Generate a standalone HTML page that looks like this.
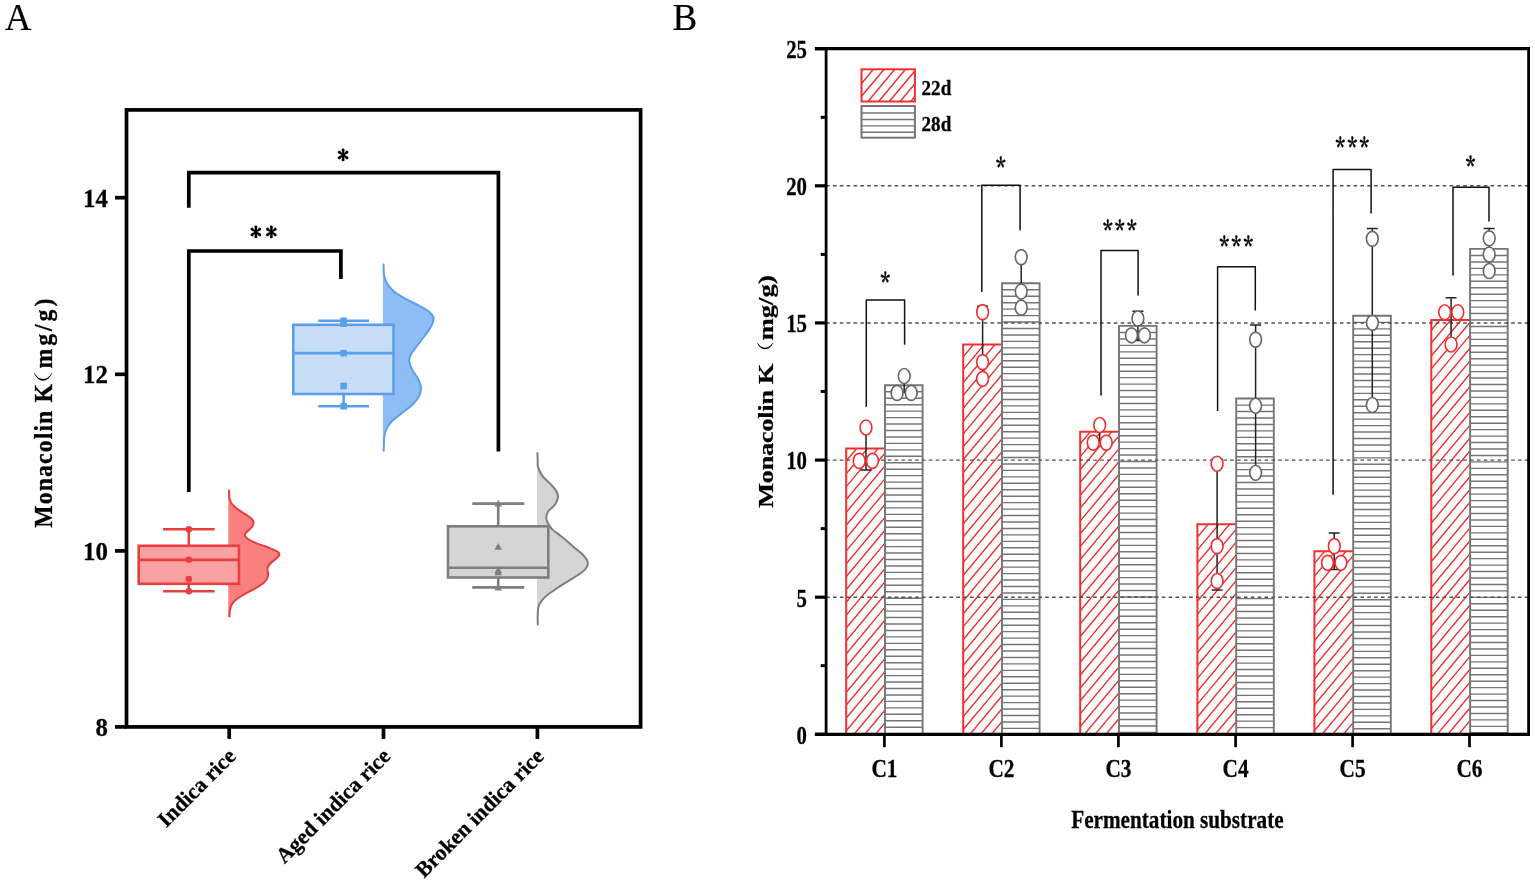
<!DOCTYPE html>
<html lang="en"><head><meta charset="utf-8"><title>Monacolin K figure</title>
<style>html,body{margin:0;padding:0;background:#fff;}svg{display:block;}text{font-family:"Liberation Serif",serif;fill:#000;}.b{font-weight:bold;stroke:#000;stroke-width:0.28px;}.cjk{font-family:"Liberation Serif","Noto Serif CJK SC",serif;font-weight:normal;}.st{font-family:"IPAGothic","DejaVu Sans",sans-serif;font-weight:bold;}.sb{font-family:"Noto Serif CJK SC","Liberation Serif",serif;font-weight:bold;stroke:#000;stroke-width:0.45px;stroke-linejoin:round;}</style></head><body>
<svg width="1535" height="884" viewBox="0 0 1535 884">
<rect x="0" y="0" width="1535" height="884" fill="#ffffff"/>
<defs>
<pattern id="hr" patternUnits="userSpaceOnUse" x="846.4" y="718.05" width="10.708" height="12.85"><path d="M-10.708,12.85 L10.708,-12.85 M0,12.85 L10.708,0 M0,25.7 L21.417,0" stroke="#f03030" stroke-width="1.4" fill="none"/></pattern>
<pattern id="hg" patternUnits="userSpaceOnUse" x="0" y="446.275" width="10" height="6.45"><path d="M0,3.225 H10" stroke="#757575" stroke-width="1.25" fill="none"/></pattern>
</defs>
<g id="panelA">
<text x="4.8" y="29.7" font-size="37" stroke="#000" stroke-width="0.2">A</text>
<rect x="126.5" y="109.9" width="514.1" height="617.0" fill="none" stroke="#000" stroke-width="3.7"/>
<line x1="115" y1="197.7" x2="126.5" y2="197.7" stroke="#000" stroke-width="3.7"/>
<text class="b" x="107.8" y="206.79999999999998" font-size="24.8" text-anchor="end">14</text>
<line x1="115" y1="374.3" x2="126.5" y2="374.3" stroke="#000" stroke-width="3.7"/>
<text class="b" x="107.8" y="383.40000000000003" font-size="24.8" text-anchor="end">12</text>
<line x1="115" y1="550.9" x2="126.5" y2="550.9" stroke="#000" stroke-width="3.7"/>
<text class="b" x="107.8" y="560.0" font-size="24.8" text-anchor="end">10</text>
<line x1="115" y1="726.9" x2="126.5" y2="726.9" stroke="#000" stroke-width="3.7"/>
<text class="b" x="107.8" y="736.0" font-size="24.8" text-anchor="end">8</text>
<line x1="229.2" y1="726.9" x2="229.2" y2="738.9" stroke="#000" stroke-width="3.7"/>
<line x1="383.5" y1="726.9" x2="383.5" y2="738.9" stroke="#000" stroke-width="3.7"/>
<line x1="537.4" y1="726.9" x2="537.4" y2="738.9" stroke="#000" stroke-width="3.7"/>
<g transform="translate(51.5,527.7) rotate(-90)"><text class="b" transform="scale(1,1.06)" x="0" y="0" font-size="23.7" textLength="143.6" lengthAdjust="spacing">Monacolin K</text><text class="cjk" transform="translate(128.4,-0.55) scale(1.42,0.968)" x="0" y="0" font-size="20">（</text><text class="b" transform="translate(159.3,0) scale(1,1.06)" x="0" y="0" font-size="23.7" textLength="69.7" lengthAdjust="spacing">mg/g)</text></g>
<text class="b" transform="translate(237.0,757.5) rotate(-45)" x="0" y="0" font-size="21.8" text-anchor="end">Indica rice</text>
<text class="b" transform="translate(391.6,757.5) rotate(-45)" x="0" y="0" font-size="21.8" text-anchor="end">Aged indica rice</text>
<text class="b" transform="translate(545.2,757.5) rotate(-45)" x="0" y="0" font-size="21.8" text-anchor="end">Broken indica rice</text>
<path d="M228.3,490.4 L229.0,490.4 C229.1,491.7 229.1,495.9 229.5,498.1 C229.9,500.3 230.2,501.5 231.7,503.5 C233.2,505.5 235.8,507.9 238.5,509.9 C241.2,511.9 245.2,514.1 247.6,515.7 C249.9,517.4 251.6,518.5 252.6,519.8 C253.6,521.1 253.7,522.0 253.5,523.4 C253.3,524.8 252.4,526.5 251.2,528.0 C250.0,529.5 247.2,531.3 246.2,532.5 C245.1,533.7 244.7,534.2 244.9,535.2 C245.1,536.2 245.6,537.4 247.6,538.8 C249.6,540.1 253.0,541.8 256.6,543.3 C260.2,544.8 265.8,546.5 269.3,547.9 C272.8,549.3 275.7,550.5 277.4,551.6 C279.1,552.7 279.6,553.2 279.5,554.3 C279.4,555.4 278.1,556.7 276.5,558.3 C274.9,559.9 271.3,562.2 269.8,564.0 C268.3,565.8 267.7,567.0 267.4,568.8 C267.1,570.6 268.4,572.7 268.2,574.6 C268.0,576.5 267.5,578.5 266.0,580.4 C264.5,582.3 262.2,584.2 259.2,586.2 C256.1,588.2 251.4,590.3 247.7,592.4 C244.0,594.5 239.8,596.7 237.1,598.7 C234.4,600.7 233.0,602.5 231.8,604.4 C230.6,606.3 230.3,608.2 229.9,610.2 C229.5,612.2 229.5,615.4 229.4,616.4 L228.3,616.4 Z" fill="#fa8080" stroke="none"/>
<path d="M229.0,490.4 C229.1,491.7 229.1,495.9 229.5,498.1 C229.9,500.3 230.2,501.5 231.7,503.5 C233.2,505.5 235.8,507.9 238.5,509.9 C241.2,511.9 245.2,514.1 247.6,515.7 C249.9,517.4 251.6,518.5 252.6,519.8 C253.6,521.1 253.7,522.0 253.5,523.4 C253.3,524.8 252.4,526.5 251.2,528.0 C250.0,529.5 247.2,531.3 246.2,532.5 C245.1,533.7 244.7,534.2 244.9,535.2 C245.1,536.2 245.6,537.4 247.6,538.8 C249.6,540.1 253.0,541.8 256.6,543.3 C260.2,544.8 265.8,546.5 269.3,547.9 C272.8,549.3 275.7,550.5 277.4,551.6 C279.1,552.7 279.6,553.2 279.5,554.3 C279.4,555.4 278.1,556.7 276.5,558.3 C274.9,559.9 271.3,562.2 269.8,564.0 C268.3,565.8 267.7,567.0 267.4,568.8 C267.1,570.6 268.4,572.7 268.2,574.6 C268.0,576.5 267.5,578.5 266.0,580.4 C264.5,582.3 262.2,584.2 259.2,586.2 C256.1,588.2 251.4,590.3 247.7,592.4 C244.0,594.5 239.8,596.7 237.1,598.7 C234.4,600.7 233.0,602.5 231.8,604.4 C230.6,606.3 230.3,608.2 229.9,610.2 C229.5,612.2 229.5,615.4 229.4,616.4" fill="none" stroke="#e83e40" stroke-width="2" stroke-linecap="round" stroke-linejoin="round"/>
<path d="M382.9,264.6 L383.6,264.6 C383.7,266.4 383.5,272.3 384.1,275.4 C384.7,278.5 385.4,280.7 387.0,283.3 C388.6,285.9 390.8,288.6 393.8,291.2 C396.8,293.8 401.0,296.2 405.1,298.6 C409.2,301.0 414.7,303.1 418.6,305.3 C422.6,307.5 426.4,309.6 428.8,311.6 C431.2,313.6 432.6,315.3 433.3,317.2 C434.0,319.1 433.7,320.4 432.8,322.9 C431.9,325.3 429.9,328.7 427.7,331.9 C425.5,335.1 422.1,339.0 419.8,342.1 C417.5,345.2 415.2,348.3 413.6,350.5 C412.0,352.7 411.1,353.7 410.4,355.5 C409.7,357.3 408.9,358.8 409.2,361.2 C409.5,363.6 410.9,367.0 412.3,369.9 C413.8,372.8 416.4,375.7 417.9,378.6 C419.3,381.5 420.8,384.4 421.0,387.3 C421.2,390.2 420.6,393.1 419.1,396.0 C417.7,398.9 415.1,401.9 412.3,404.7 C409.5,407.5 405.6,410.1 402.3,412.8 C399.0,415.5 395.0,418.3 392.4,420.9 C389.8,423.5 388.1,425.7 386.8,428.4 C385.5,431.1 384.8,433.4 384.3,437.1 C383.8,440.8 383.8,448.5 383.7,450.8 L382.9,450.8 Z" fill="#8fbcf5" stroke="none"/>
<path d="M383.6,264.6 C383.7,266.4 383.5,272.3 384.1,275.4 C384.7,278.5 385.4,280.7 387.0,283.3 C388.6,285.9 390.8,288.6 393.8,291.2 C396.8,293.8 401.0,296.2 405.1,298.6 C409.2,301.0 414.7,303.1 418.6,305.3 C422.6,307.5 426.4,309.6 428.8,311.6 C431.2,313.6 432.6,315.3 433.3,317.2 C434.0,319.1 433.7,320.4 432.8,322.9 C431.9,325.3 429.9,328.7 427.7,331.9 C425.5,335.1 422.1,339.0 419.8,342.1 C417.5,345.2 415.2,348.3 413.6,350.5 C412.0,352.7 411.1,353.7 410.4,355.5 C409.7,357.3 408.9,358.8 409.2,361.2 C409.5,363.6 410.9,367.0 412.3,369.9 C413.8,372.8 416.4,375.7 417.9,378.6 C419.3,381.5 420.8,384.4 421.0,387.3 C421.2,390.2 420.6,393.1 419.1,396.0 C417.7,398.9 415.1,401.9 412.3,404.7 C409.5,407.5 405.6,410.1 402.3,412.8 C399.0,415.5 395.0,418.3 392.4,420.9 C389.8,423.5 388.1,425.7 386.8,428.4 C385.5,431.1 384.8,433.4 384.3,437.1 C383.8,440.8 383.8,448.5 383.7,450.8" fill="none" stroke="#5a9fee" stroke-width="2" stroke-linecap="round" stroke-linejoin="round"/>
<path d="M537.0,453.0 L537.5,453.0 C537.5,454.2 537.6,457.6 537.7,460.0 C537.8,462.4 537.3,464.4 538.1,467.1 C538.9,469.8 540.3,473.2 542.6,476.2 C544.9,479.2 549.3,482.6 551.7,485.2 C554.1,487.8 555.8,489.9 556.8,492.0 C557.8,494.1 558.2,495.6 557.9,497.7 C557.6,499.8 556.7,502.2 555.1,504.5 C553.5,506.8 549.8,509.1 548.3,511.3 C546.8,513.5 546.2,515.9 546.2,518.0 C546.2,520.1 547.2,521.8 548.3,523.7 C549.3,525.6 550.4,527.5 552.5,529.6 C554.6,531.7 557.6,533.4 561.1,536.2 C564.6,539.1 569.8,543.5 573.5,546.7 C577.2,549.9 581.1,552.9 583.5,555.5 C585.9,558.1 587.4,560.1 587.8,562.3 C588.2,564.5 587.4,566.4 585.9,568.5 C584.4,570.6 581.6,572.5 578.5,574.7 C575.4,576.9 571.2,579.1 567.3,581.6 C563.3,584.1 558.5,587.1 554.8,589.7 C551.1,592.3 547.5,594.6 544.9,597.1 C542.3,599.6 540.5,602.1 539.3,604.6 C538.1,607.1 538.0,608.8 537.8,612.1 C537.5,615.4 537.8,622.4 537.8,624.5 L537.0,624.5 Z" fill="#d5d5d5" stroke="none"/>
<path d="M537.5,453.0 C537.5,454.2 537.6,457.6 537.7,460.0 C537.8,462.4 537.3,464.4 538.1,467.1 C538.9,469.8 540.3,473.2 542.6,476.2 C544.9,479.2 549.3,482.6 551.7,485.2 C554.1,487.8 555.8,489.9 556.8,492.0 C557.8,494.1 558.2,495.6 557.9,497.7 C557.6,499.8 556.7,502.2 555.1,504.5 C553.5,506.8 549.8,509.1 548.3,511.3 C546.8,513.5 546.2,515.9 546.2,518.0 C546.2,520.1 547.2,521.8 548.3,523.7 C549.3,525.6 550.4,527.5 552.5,529.6 C554.6,531.7 557.6,533.4 561.1,536.2 C564.6,539.1 569.8,543.5 573.5,546.7 C577.2,549.9 581.1,552.9 583.5,555.5 C585.9,558.1 587.4,560.1 587.8,562.3 C588.2,564.5 587.4,566.4 585.9,568.5 C584.4,570.6 581.6,572.5 578.5,574.7 C575.4,576.9 571.2,579.1 567.3,581.6 C563.3,584.1 558.5,587.1 554.8,589.7 C551.1,592.3 547.5,594.6 544.9,597.1 C542.3,599.6 540.5,602.1 539.3,604.6 C538.1,607.1 538.0,608.8 537.8,612.1 C537.5,615.4 537.8,622.4 537.8,624.5" fill="none" stroke="#7e7e7e" stroke-width="2" stroke-linecap="round" stroke-linejoin="round"/>
<path d="M188.8,529.2 V545.8 M188.8,583.8 V591.2 M163.1,529.2 H214.6 M163.1,591.2 H214.6" stroke="#e83e40" stroke-width="2.6" fill="none"/>
<rect x="138.7" y="545.8" width="100.30000000000001" height="38.0" fill="#faa2a2" stroke="#e83e40" stroke-width="2.6"/>
<line x1="138.7" y1="559.9" x2="239" y2="559.9" stroke="#e83e40" stroke-width="2.6"/>
<circle cx="188.8" cy="529.2" r="3.3" fill="#e83e40"/>
<circle cx="188.8" cy="559.7" r="3.3" fill="#e83e40"/>
<circle cx="188.8" cy="579" r="3.3" fill="#e83e40"/>
<circle cx="188.8" cy="591.3" r="3.3" fill="#e83e40"/>
<path d="M343.6,320.8 V324.8 M343.6,394 V406.3 M318.2,320.8 H369 M318.2,406.3 H369" stroke="#5a9fee" stroke-width="2.6" fill="none"/>
<rect x="293.3" y="324.8" width="100.19999999999999" height="69.19999999999999" fill="#c8def8" stroke="#5a9fee" stroke-width="2.6"/>
<line x1="293.3" y1="353.1" x2="393.5" y2="353.1" stroke="#5a9fee" stroke-width="2.6"/>
<rect x="340.3" y="317.5" width="6.6" height="6.6" fill="#5a9fee"/>
<rect x="340.3" y="320.3" width="6.6" height="6.6" fill="#5a9fee"/>
<rect x="340.3" y="349.9" width="6.6" height="6.6" fill="#5a9fee"/>
<rect x="340.3" y="382.7" width="6.6" height="6.6" fill="#5a9fee"/>
<rect x="340.3" y="402.9" width="6.6" height="6.6" fill="#5a9fee"/>
<path d="M498.2,503.6 V526.3 M498.2,577.5 V587.4 M472.3,503.6 H524.3 M472.3,587.4 H524.3" stroke="#7e7e7e" stroke-width="2.6" fill="none"/>
<rect x="448" y="526.3" width="100.29999999999995" height="51.200000000000045" fill="#d5d5d5" stroke="#7e7e7e" stroke-width="2.6"/>
<line x1="448" y1="567.7" x2="548.3" y2="567.7" stroke="#7e7e7e" stroke-width="2.6"/>
<path d="M494.4,506.40000000000003 L502.0,506.40000000000003 L498.2,499.70000000000005 Z" fill="#7e7e7e"/>
<path d="M494.4,549.6999999999999 L502.0,549.6999999999999 L498.2,543.0 Z" fill="#7e7e7e"/>
<path d="M494.4,573.0999999999999 L502.0,573.0999999999999 L498.2,566.4 Z" fill="#7e7e7e"/>
<path d="M494.4,575.3 L502.0,575.3 L498.2,568.6 Z" fill="#7e7e7e"/>
<path d="M494.4,590.4 L502.0,590.4 L498.2,583.7 Z" fill="#7e7e7e"/>
<path d="M188.8,207.7 V172.7 H498.4 V451.4" fill="none" stroke="#000" stroke-width="3.7" stroke-linejoin="miter"/>
<path d="M188.8,492.1 V251 H340.9 V279" fill="none" stroke="#000" stroke-width="3.7" stroke-linejoin="miter"/>
<text class="st" x="343.15" y="163.5" font-size="23.5" text-anchor="middle">*</text>
<text class="st" x="255.85" y="241.2" font-size="23.5" text-anchor="middle">*</text>
<text class="st" x="271.4" y="241.2" font-size="23.5" text-anchor="middle">*</text>
</g>
<g id="panelB">
<text x="672.6" y="29.5" font-size="37" stroke="#000" stroke-width="0.2">B</text>
<clipPath id="c1"><rect x="846.20" y="448.50" width="38.80" height="285.80"/></clipPath>
<path d="M845.20,449.40L886.00,400.44M845.20,462.25L886.00,413.29M845.20,475.10L886.00,426.14M845.20,487.95L886.00,438.99M845.20,500.80L886.00,451.84M845.20,513.65L886.00,464.69M845.20,526.50L886.00,477.54M845.20,539.35L886.00,490.39M845.20,552.20L886.00,503.24M845.20,565.05L886.00,516.09M845.20,577.90L886.00,528.94M845.20,590.75L886.00,541.79M845.20,603.60L886.00,554.64M845.20,616.45L886.00,567.49M845.20,629.30L886.00,580.34M845.20,642.15L886.00,593.19M845.20,655.00L886.00,606.04M845.20,667.85L886.00,618.89M845.20,680.70L886.00,631.74M845.20,693.55L886.00,644.59M845.20,706.40L886.00,657.44M845.20,719.25L886.00,670.29M845.20,732.10L886.00,683.14M845.20,744.95L886.00,695.99M845.20,757.80L886.00,708.84M845.20,770.65L886.00,721.69M845.20,783.50L886.00,734.54" fill="none" stroke="#f03030" stroke-width="1.4" clip-path="url(#c1)"/>
<path d="M846.2,734.3 V448.5 H885.0" fill="none" stroke="#f03030" stroke-width="2"/>
<rect x="885.0" y="385.2" width="37.6" height="349.1" fill="#fff"/>
<path d="M885.00,391.80H922.60M885.00,398.25H922.60M885.00,404.70H922.60M885.00,411.15H922.60M885.00,417.60H922.60M885.00,424.05H922.60M885.00,430.50H922.60M885.00,436.95H922.60M885.00,443.40H922.60M885.00,449.85H922.60M885.00,456.30H922.60M885.00,462.75H922.60M885.00,469.20H922.60M885.00,475.65H922.60M885.00,482.10H922.60M885.00,488.55H922.60M885.00,495.00H922.60M885.00,501.45H922.60M885.00,507.90H922.60M885.00,514.35H922.60M885.00,520.80H922.60M885.00,527.25H922.60M885.00,533.70H922.60M885.00,540.15H922.60M885.00,546.60H922.60M885.00,553.05H922.60M885.00,559.50H922.60M885.00,565.95H922.60M885.00,572.40H922.60M885.00,578.85H922.60M885.00,585.30H922.60M885.00,591.75H922.60M885.00,598.20H922.60M885.00,604.65H922.60M885.00,611.10H922.60M885.00,617.55H922.60M885.00,624.00H922.60M885.00,630.45H922.60M885.00,636.90H922.60M885.00,643.35H922.60M885.00,649.80H922.60M885.00,656.25H922.60M885.00,662.70H922.60M885.00,669.15H922.60M885.00,675.60H922.60M885.00,682.05H922.60M885.00,688.50H922.60M885.00,694.95H922.60M885.00,701.40H922.60M885.00,707.85H922.60M885.00,714.30H922.60M885.00,720.75H922.60M885.00,727.20H922.60M885.00,733.65H922.60" fill="none" stroke="#757575" stroke-width="1.4"/>
<path d="M885.0,734.3 V385.2 H922.6 V734.3" fill="none" stroke="#757575" stroke-width="1.9"/>
<clipPath id="c2"><rect x="963.20" y="344.40" width="38.80" height="389.90"/></clipPath>
<path d="M962.20,345.25L1003.00,296.29M962.20,358.10L1003.00,309.14M962.20,370.95L1003.00,321.99M962.20,383.80L1003.00,334.84M962.20,396.65L1003.00,347.69M962.20,409.50L1003.00,360.54M962.20,422.35L1003.00,373.39M962.20,435.20L1003.00,386.24M962.20,448.05L1003.00,399.09M962.20,460.90L1003.00,411.94M962.20,473.75L1003.00,424.79M962.20,486.60L1003.00,437.64M962.20,499.45L1003.00,450.49M962.20,512.30L1003.00,463.34M962.20,525.15L1003.00,476.19M962.20,538.00L1003.00,489.04M962.20,550.85L1003.00,501.89M962.20,563.70L1003.00,514.74M962.20,576.55L1003.00,527.59M962.20,589.40L1003.00,540.44M962.20,602.25L1003.00,553.29M962.20,615.10L1003.00,566.14M962.20,627.95L1003.00,578.99M962.20,640.80L1003.00,591.84M962.20,653.65L1003.00,604.69M962.20,666.50L1003.00,617.54M962.20,679.35L1003.00,630.39M962.20,692.20L1003.00,643.24M962.20,705.05L1003.00,656.09M962.20,717.90L1003.00,668.94M962.20,730.75L1003.00,681.79M962.20,743.60L1003.00,694.64M962.20,756.45L1003.00,707.49M962.20,769.30L1003.00,720.34M962.20,782.15L1003.00,733.19" fill="none" stroke="#f03030" stroke-width="1.4" clip-path="url(#c2)"/>
<path d="M963.2,734.3 V344.4 H1002.0" fill="none" stroke="#f03030" stroke-width="2"/>
<rect x="1002.0" y="283.2" width="37.6" height="451.1" fill="#fff"/>
<path d="M1002.00,289.80H1039.60M1002.00,296.25H1039.60M1002.00,302.70H1039.60M1002.00,309.15H1039.60M1002.00,315.60H1039.60M1002.00,322.05H1039.60M1002.00,328.50H1039.60M1002.00,334.95H1039.60M1002.00,341.40H1039.60M1002.00,347.85H1039.60M1002.00,354.30H1039.60M1002.00,360.75H1039.60M1002.00,367.20H1039.60M1002.00,373.65H1039.60M1002.00,380.10H1039.60M1002.00,386.55H1039.60M1002.00,393.00H1039.60M1002.00,399.45H1039.60M1002.00,405.90H1039.60M1002.00,412.35H1039.60M1002.00,418.80H1039.60M1002.00,425.25H1039.60M1002.00,431.70H1039.60M1002.00,438.15H1039.60M1002.00,444.60H1039.60M1002.00,451.05H1039.60M1002.00,457.50H1039.60M1002.00,463.95H1039.60M1002.00,470.40H1039.60M1002.00,476.85H1039.60M1002.00,483.30H1039.60M1002.00,489.75H1039.60M1002.00,496.20H1039.60M1002.00,502.65H1039.60M1002.00,509.10H1039.60M1002.00,515.55H1039.60M1002.00,522.00H1039.60M1002.00,528.45H1039.60M1002.00,534.90H1039.60M1002.00,541.35H1039.60M1002.00,547.80H1039.60M1002.00,554.25H1039.60M1002.00,560.70H1039.60M1002.00,567.15H1039.60M1002.00,573.60H1039.60M1002.00,580.05H1039.60M1002.00,586.50H1039.60M1002.00,592.95H1039.60M1002.00,599.40H1039.60M1002.00,605.85H1039.60M1002.00,612.30H1039.60M1002.00,618.75H1039.60M1002.00,625.20H1039.60M1002.00,631.65H1039.60M1002.00,638.10H1039.60M1002.00,644.55H1039.60M1002.00,651.00H1039.60M1002.00,657.45H1039.60M1002.00,663.90H1039.60M1002.00,670.35H1039.60M1002.00,676.80H1039.60M1002.00,683.25H1039.60M1002.00,689.70H1039.60M1002.00,696.15H1039.60M1002.00,702.60H1039.60M1002.00,709.05H1039.60M1002.00,715.50H1039.60M1002.00,721.95H1039.60M1002.00,728.40H1039.60" fill="none" stroke="#757575" stroke-width="1.4"/>
<path d="M1002.0,734.3 V283.2 H1039.6 V734.3" fill="none" stroke="#757575" stroke-width="1.9"/>
<clipPath id="c3"><rect x="1080.20" y="431.80" width="38.80" height="302.50"/></clipPath>
<path d="M1079.20,432.25L1120.00,383.29M1079.20,445.10L1120.00,396.14M1079.20,457.95L1120.00,408.99M1079.20,470.80L1120.00,421.84M1079.20,483.65L1120.00,434.69M1079.20,496.50L1120.00,447.54M1079.20,509.35L1120.00,460.39M1079.20,522.20L1120.00,473.24M1079.20,535.05L1120.00,486.09M1079.20,547.90L1120.00,498.94M1079.20,560.75L1120.00,511.79M1079.20,573.60L1120.00,524.64M1079.20,586.45L1120.00,537.49M1079.20,599.30L1120.00,550.34M1079.20,612.15L1120.00,563.19M1079.20,625.00L1120.00,576.04M1079.20,637.85L1120.00,588.89M1079.20,650.70L1120.00,601.74M1079.20,663.55L1120.00,614.59M1079.20,676.40L1120.00,627.44M1079.20,689.25L1120.00,640.29M1079.20,702.10L1120.00,653.14M1079.20,714.95L1120.00,665.99M1079.20,727.80L1120.00,678.84M1079.20,740.65L1120.00,691.69M1079.20,753.50L1120.00,704.54M1079.20,766.35L1120.00,717.39M1079.20,779.20L1120.00,730.24M1079.20,792.05L1120.00,743.09" fill="none" stroke="#f03030" stroke-width="1.4" clip-path="url(#c3)"/>
<path d="M1080.2,734.3 V431.8 H1119.0" fill="none" stroke="#f03030" stroke-width="2"/>
<rect x="1119.0" y="325.9" width="37.6" height="408.4" fill="#fff"/>
<path d="M1119.00,332.50H1156.60M1119.00,338.95H1156.60M1119.00,345.40H1156.60M1119.00,351.85H1156.60M1119.00,358.30H1156.60M1119.00,364.75H1156.60M1119.00,371.20H1156.60M1119.00,377.65H1156.60M1119.00,384.10H1156.60M1119.00,390.55H1156.60M1119.00,397.00H1156.60M1119.00,403.45H1156.60M1119.00,409.90H1156.60M1119.00,416.35H1156.60M1119.00,422.80H1156.60M1119.00,429.25H1156.60M1119.00,435.70H1156.60M1119.00,442.15H1156.60M1119.00,448.60H1156.60M1119.00,455.05H1156.60M1119.00,461.50H1156.60M1119.00,467.95H1156.60M1119.00,474.40H1156.60M1119.00,480.85H1156.60M1119.00,487.30H1156.60M1119.00,493.75H1156.60M1119.00,500.20H1156.60M1119.00,506.65H1156.60M1119.00,513.10H1156.60M1119.00,519.55H1156.60M1119.00,526.00H1156.60M1119.00,532.45H1156.60M1119.00,538.90H1156.60M1119.00,545.35H1156.60M1119.00,551.80H1156.60M1119.00,558.25H1156.60M1119.00,564.70H1156.60M1119.00,571.15H1156.60M1119.00,577.60H1156.60M1119.00,584.05H1156.60M1119.00,590.50H1156.60M1119.00,596.95H1156.60M1119.00,603.40H1156.60M1119.00,609.85H1156.60M1119.00,616.30H1156.60M1119.00,622.75H1156.60M1119.00,629.20H1156.60M1119.00,635.65H1156.60M1119.00,642.10H1156.60M1119.00,648.55H1156.60M1119.00,655.00H1156.60M1119.00,661.45H1156.60M1119.00,667.90H1156.60M1119.00,674.35H1156.60M1119.00,680.80H1156.60M1119.00,687.25H1156.60M1119.00,693.70H1156.60M1119.00,700.15H1156.60M1119.00,706.60H1156.60M1119.00,713.05H1156.60M1119.00,719.50H1156.60M1119.00,725.95H1156.60M1119.00,732.40H1156.60" fill="none" stroke="#757575" stroke-width="1.4"/>
<path d="M1119.0,734.3 V325.9 H1156.6 V734.3" fill="none" stroke="#757575" stroke-width="1.9"/>
<clipPath id="c4"><rect x="1197.40" y="524.20" width="38.80" height="210.10"/></clipPath>
<path d="M1196.40,512.70L1237.20,463.74M1196.40,525.55L1237.20,476.59M1196.40,538.40L1237.20,489.44M1196.40,551.25L1237.20,502.29M1196.40,564.10L1237.20,515.14M1196.40,576.95L1237.20,527.99M1196.40,589.80L1237.20,540.84M1196.40,602.65L1237.20,553.69M1196.40,615.50L1237.20,566.54M1196.40,628.35L1237.20,579.39M1196.40,641.20L1237.20,592.24M1196.40,654.05L1237.20,605.09M1196.40,666.90L1237.20,617.94M1196.40,679.75L1237.20,630.79M1196.40,692.60L1237.20,643.64M1196.40,705.45L1237.20,656.49M1196.40,718.30L1237.20,669.34M1196.40,731.15L1237.20,682.19M1196.40,744.00L1237.20,695.04M1196.40,756.85L1237.20,707.89M1196.40,769.70L1237.20,720.74M1196.40,782.55L1237.20,733.59" fill="none" stroke="#f03030" stroke-width="1.4" clip-path="url(#c4)"/>
<path d="M1197.4,734.3 V524.2 H1236.2" fill="none" stroke="#f03030" stroke-width="2"/>
<rect x="1236.2" y="398.5" width="37.6" height="335.8" fill="#fff"/>
<path d="M1236.20,405.10H1273.80M1236.20,411.55H1273.80M1236.20,418.00H1273.80M1236.20,424.45H1273.80M1236.20,430.90H1273.80M1236.20,437.35H1273.80M1236.20,443.80H1273.80M1236.20,450.25H1273.80M1236.20,456.70H1273.80M1236.20,463.15H1273.80M1236.20,469.60H1273.80M1236.20,476.05H1273.80M1236.20,482.50H1273.80M1236.20,488.95H1273.80M1236.20,495.40H1273.80M1236.20,501.85H1273.80M1236.20,508.30H1273.80M1236.20,514.75H1273.80M1236.20,521.20H1273.80M1236.20,527.65H1273.80M1236.20,534.10H1273.80M1236.20,540.55H1273.80M1236.20,547.00H1273.80M1236.20,553.45H1273.80M1236.20,559.90H1273.80M1236.20,566.35H1273.80M1236.20,572.80H1273.80M1236.20,579.25H1273.80M1236.20,585.70H1273.80M1236.20,592.15H1273.80M1236.20,598.60H1273.80M1236.20,605.05H1273.80M1236.20,611.50H1273.80M1236.20,617.95H1273.80M1236.20,624.40H1273.80M1236.20,630.85H1273.80M1236.20,637.30H1273.80M1236.20,643.75H1273.80M1236.20,650.20H1273.80M1236.20,656.65H1273.80M1236.20,663.10H1273.80M1236.20,669.55H1273.80M1236.20,676.00H1273.80M1236.20,682.45H1273.80M1236.20,688.90H1273.80M1236.20,695.35H1273.80M1236.20,701.80H1273.80M1236.20,708.25H1273.80M1236.20,714.70H1273.80M1236.20,721.15H1273.80M1236.20,727.60H1273.80" fill="none" stroke="#757575" stroke-width="1.4"/>
<path d="M1236.2,734.3 V398.5 H1273.8 V734.3" fill="none" stroke="#757575" stroke-width="1.9"/>
<clipPath id="c5"><rect x="1314.40" y="551.20" width="38.80" height="183.10"/></clipPath>
<path d="M1313.40,551.90L1354.20,502.94M1313.40,564.75L1354.20,515.79M1313.40,577.60L1354.20,528.64M1313.40,590.45L1354.20,541.49M1313.40,603.30L1354.20,554.34M1313.40,616.15L1354.20,567.19M1313.40,629.00L1354.20,580.04M1313.40,641.85L1354.20,592.89M1313.40,654.70L1354.20,605.74M1313.40,667.55L1354.20,618.59M1313.40,680.40L1354.20,631.44M1313.40,693.25L1354.20,644.29M1313.40,706.10L1354.20,657.14M1313.40,718.95L1354.20,669.99M1313.40,731.80L1354.20,682.84M1313.40,744.65L1354.20,695.69M1313.40,757.50L1354.20,708.54M1313.40,770.35L1354.20,721.39M1313.40,783.20L1354.20,734.24" fill="none" stroke="#f03030" stroke-width="1.4" clip-path="url(#c5)"/>
<path d="M1314.4,734.3 V551.2 H1353.2" fill="none" stroke="#f03030" stroke-width="2"/>
<rect x="1353.2" y="315.8" width="37.6" height="418.5" fill="#fff"/>
<path d="M1353.20,322.40H1390.80M1353.20,328.85H1390.80M1353.20,335.30H1390.80M1353.20,341.75H1390.80M1353.20,348.20H1390.80M1353.20,354.65H1390.80M1353.20,361.10H1390.80M1353.20,367.55H1390.80M1353.20,374.00H1390.80M1353.20,380.45H1390.80M1353.20,386.90H1390.80M1353.20,393.35H1390.80M1353.20,399.80H1390.80M1353.20,406.25H1390.80M1353.20,412.70H1390.80M1353.20,419.15H1390.80M1353.20,425.60H1390.80M1353.20,432.05H1390.80M1353.20,438.50H1390.80M1353.20,444.95H1390.80M1353.20,451.40H1390.80M1353.20,457.85H1390.80M1353.20,464.30H1390.80M1353.20,470.75H1390.80M1353.20,477.20H1390.80M1353.20,483.65H1390.80M1353.20,490.10H1390.80M1353.20,496.55H1390.80M1353.20,503.00H1390.80M1353.20,509.45H1390.80M1353.20,515.90H1390.80M1353.20,522.35H1390.80M1353.20,528.80H1390.80M1353.20,535.25H1390.80M1353.20,541.70H1390.80M1353.20,548.15H1390.80M1353.20,554.60H1390.80M1353.20,561.05H1390.80M1353.20,567.50H1390.80M1353.20,573.95H1390.80M1353.20,580.40H1390.80M1353.20,586.85H1390.80M1353.20,593.30H1390.80M1353.20,599.75H1390.80M1353.20,606.20H1390.80M1353.20,612.65H1390.80M1353.20,619.10H1390.80M1353.20,625.55H1390.80M1353.20,632.00H1390.80M1353.20,638.45H1390.80M1353.20,644.90H1390.80M1353.20,651.35H1390.80M1353.20,657.80H1390.80M1353.20,664.25H1390.80M1353.20,670.70H1390.80M1353.20,677.15H1390.80M1353.20,683.60H1390.80M1353.20,690.05H1390.80M1353.20,696.50H1390.80M1353.20,702.95H1390.80M1353.20,709.40H1390.80M1353.20,715.85H1390.80M1353.20,722.30H1390.80M1353.20,728.75H1390.80" fill="none" stroke="#757575" stroke-width="1.4"/>
<path d="M1353.2,734.3 V315.8 H1390.8 V734.3" fill="none" stroke="#757575" stroke-width="1.9"/>
<clipPath id="c6"><rect x="1431.30" y="320.10" width="38.80" height="414.20"/></clipPath>
<path d="M1430.30,318.60L1471.10,269.64M1430.30,331.45L1471.10,282.49M1430.30,344.30L1471.10,295.34M1430.30,357.15L1471.10,308.19M1430.30,370.00L1471.10,321.04M1430.30,382.85L1471.10,333.89M1430.30,395.70L1471.10,346.74M1430.30,408.55L1471.10,359.59M1430.30,421.40L1471.10,372.44M1430.30,434.25L1471.10,385.29M1430.30,447.10L1471.10,398.14M1430.30,459.95L1471.10,410.99M1430.30,472.80L1471.10,423.84M1430.30,485.65L1471.10,436.69M1430.30,498.50L1471.10,449.54M1430.30,511.35L1471.10,462.39M1430.30,524.20L1471.10,475.24M1430.30,537.05L1471.10,488.09M1430.30,549.90L1471.10,500.94M1430.30,562.75L1471.10,513.79M1430.30,575.60L1471.10,526.64M1430.30,588.45L1471.10,539.49M1430.30,601.30L1471.10,552.34M1430.30,614.15L1471.10,565.19M1430.30,627.00L1471.10,578.04M1430.30,639.85L1471.10,590.89M1430.30,652.70L1471.10,603.74M1430.30,665.55L1471.10,616.59M1430.30,678.40L1471.10,629.44M1430.30,691.25L1471.10,642.29M1430.30,704.10L1471.10,655.14M1430.30,716.95L1471.10,667.99M1430.30,729.80L1471.10,680.84M1430.30,742.65L1471.10,693.69M1430.30,755.50L1471.10,706.54M1430.30,768.35L1471.10,719.39M1430.30,781.20L1471.10,732.24M1430.30,794.05L1471.10,745.09" fill="none" stroke="#f03030" stroke-width="1.4" clip-path="url(#c6)"/>
<path d="M1431.3,734.3 V320.1 H1470.1" fill="none" stroke="#f03030" stroke-width="2"/>
<rect x="1470.1" y="248.9" width="37.6" height="485.4" fill="#fff"/>
<path d="M1470.10,255.50H1507.70M1470.10,261.95H1507.70M1470.10,268.40H1507.70M1470.10,274.85H1507.70M1470.10,281.30H1507.70M1470.10,287.75H1507.70M1470.10,294.20H1507.70M1470.10,300.65H1507.70M1470.10,307.10H1507.70M1470.10,313.55H1507.70M1470.10,320.00H1507.70M1470.10,326.45H1507.70M1470.10,332.90H1507.70M1470.10,339.35H1507.70M1470.10,345.80H1507.70M1470.10,352.25H1507.70M1470.10,358.70H1507.70M1470.10,365.15H1507.70M1470.10,371.60H1507.70M1470.10,378.05H1507.70M1470.10,384.50H1507.70M1470.10,390.95H1507.70M1470.10,397.40H1507.70M1470.10,403.85H1507.70M1470.10,410.30H1507.70M1470.10,416.75H1507.70M1470.10,423.20H1507.70M1470.10,429.65H1507.70M1470.10,436.10H1507.70M1470.10,442.55H1507.70M1470.10,449.00H1507.70M1470.10,455.45H1507.70M1470.10,461.90H1507.70M1470.10,468.35H1507.70M1470.10,474.80H1507.70M1470.10,481.25H1507.70M1470.10,487.70H1507.70M1470.10,494.15H1507.70M1470.10,500.60H1507.70M1470.10,507.05H1507.70M1470.10,513.50H1507.70M1470.10,519.95H1507.70M1470.10,526.40H1507.70M1470.10,532.85H1507.70M1470.10,539.30H1507.70M1470.10,545.75H1507.70M1470.10,552.20H1507.70M1470.10,558.65H1507.70M1470.10,565.10H1507.70M1470.10,571.55H1507.70M1470.10,578.00H1507.70M1470.10,584.45H1507.70M1470.10,590.90H1507.70M1470.10,597.35H1507.70M1470.10,603.80H1507.70M1470.10,610.25H1507.70M1470.10,616.70H1507.70M1470.10,623.15H1507.70M1470.10,629.60H1507.70M1470.10,636.05H1507.70M1470.10,642.50H1507.70M1470.10,648.95H1507.70M1470.10,655.40H1507.70M1470.10,661.85H1507.70M1470.10,668.30H1507.70M1470.10,674.75H1507.70M1470.10,681.20H1507.70M1470.10,687.65H1507.70M1470.10,694.10H1507.70M1470.10,700.55H1507.70M1470.10,707.00H1507.70M1470.10,713.45H1507.70M1470.10,719.90H1507.70M1470.10,726.35H1507.70M1470.10,732.80H1507.70" fill="none" stroke="#757575" stroke-width="1.4"/>
<path d="M1470.1,734.3 V248.9 H1507.7 V734.3" fill="none" stroke="#757575" stroke-width="1.9"/>
<line x1="826.1" y1="597.2" x2="1528.6" y2="597.2" stroke="#505050" stroke-width="1.45" stroke-dasharray="3.6 3.25"/>
<line x1="826.1" y1="460.1" x2="1528.6" y2="460.1" stroke="#505050" stroke-width="1.45" stroke-dasharray="3.6 3.25"/>
<line x1="826.1" y1="322.9" x2="1528.6" y2="322.9" stroke="#505050" stroke-width="1.45" stroke-dasharray="3.6 3.25"/>
<line x1="826.1" y1="185.8" x2="1528.6" y2="185.8" stroke="#505050" stroke-width="1.45" stroke-dasharray="3.6 3.25"/>
<path d="M866,427 V469.9 M860.5,427 H871.5 M860.5,469.9 H871.5" fill="none" stroke="#222" stroke-width="1.5"/>
<path d="M904.2,377 V392.5 M898.7,377 H909.7 M898.7,392.5 H909.7" fill="none" stroke="#222" stroke-width="1.5"/>
<ellipse cx="866" cy="427.5" rx="5.9" ry="7.5" fill="#fff" stroke="#f03030" stroke-width="1.65"/>
<ellipse cx="859.2" cy="460.9" rx="5.9" ry="7.5" fill="#fff" stroke="#f03030" stroke-width="1.65"/>
<ellipse cx="872.5" cy="460.9" rx="5.9" ry="7.5" fill="#fff" stroke="#f03030" stroke-width="1.65"/>
<ellipse cx="904.2" cy="376" rx="5.9" ry="7.5" fill="#fff" stroke="#686868" stroke-width="1.65"/>
<ellipse cx="897.1" cy="392.9" rx="5.9" ry="7.5" fill="#fff" stroke="#686868" stroke-width="1.65"/>
<ellipse cx="911.2" cy="392.9" rx="5.9" ry="7.5" fill="#fff" stroke="#686868" stroke-width="1.65"/>
<path d="M982.6,306.2 V381 M977.1,306.2 H988.1 M977.1,381 H988.1" fill="none" stroke="#222" stroke-width="1.5"/>
<path d="M1021.2,257 V309 M1015.7,257 H1026.7 M1015.7,309 H1026.7" fill="none" stroke="#222" stroke-width="1.5"/>
<ellipse cx="982.6" cy="312.1" rx="5.9" ry="7.5" fill="#fff" stroke="#f03030" stroke-width="1.65"/>
<ellipse cx="982.6" cy="362.1" rx="5.9" ry="7.5" fill="#fff" stroke="#f03030" stroke-width="1.65"/>
<ellipse cx="982.6" cy="378.8" rx="5.9" ry="7.5" fill="#fff" stroke="#f03030" stroke-width="1.65"/>
<ellipse cx="1021.2" cy="257.1" rx="5.9" ry="7.5" fill="#fff" stroke="#686868" stroke-width="1.65"/>
<ellipse cx="1021.2" cy="291.5" rx="5.9" ry="7.5" fill="#fff" stroke="#686868" stroke-width="1.65"/>
<ellipse cx="1021.2" cy="307.6" rx="5.9" ry="7.5" fill="#fff" stroke="#686868" stroke-width="1.65"/>
<path d="M1099.7,424 V441 M1094.2,424 H1105.2 M1094.2,441 H1105.2" fill="none" stroke="#222" stroke-width="1.5"/>
<path d="M1137.9,311.2 V340.6 M1132.4,311.2 H1143.4 M1132.4,340.6 H1143.4" fill="none" stroke="#222" stroke-width="1.5"/>
<ellipse cx="1099.7" cy="425" rx="5.9" ry="7.5" fill="#fff" stroke="#f03030" stroke-width="1.65"/>
<ellipse cx="1093.2" cy="442.6" rx="5.9" ry="7.5" fill="#fff" stroke="#f03030" stroke-width="1.65"/>
<ellipse cx="1106.2" cy="442.6" rx="5.9" ry="7.5" fill="#fff" stroke="#f03030" stroke-width="1.65"/>
<ellipse cx="1137.9" cy="318.5" rx="5.9" ry="7.5" fill="#fff" stroke="#686868" stroke-width="1.65"/>
<ellipse cx="1131.5" cy="335.3" rx="5.9" ry="7.5" fill="#fff" stroke="#686868" stroke-width="1.65"/>
<ellipse cx="1144.4" cy="335.3" rx="5.9" ry="7.5" fill="#fff" stroke="#686868" stroke-width="1.65"/>
<path d="M1217.1,459 V590 M1211.6,459 H1222.6 M1211.6,590 H1222.6" fill="none" stroke="#222" stroke-width="1.5"/>
<path d="M1255.6,325 V471 M1250.1,325 H1261.1 M1250.1,471 H1261.1" fill="none" stroke="#222" stroke-width="1.5"/>
<ellipse cx="1217.1" cy="463.7" rx="5.9" ry="7.5" fill="#fff" stroke="#f03030" stroke-width="1.65"/>
<ellipse cx="1217.1" cy="546.1" rx="5.9" ry="7.5" fill="#fff" stroke="#f03030" stroke-width="1.65"/>
<ellipse cx="1217.1" cy="581" rx="5.9" ry="7.5" fill="#fff" stroke="#f03030" stroke-width="1.65"/>
<ellipse cx="1255.6" cy="339.6" rx="5.9" ry="7.5" fill="#fff" stroke="#686868" stroke-width="1.65"/>
<ellipse cx="1255.6" cy="405.7" rx="5.9" ry="7.5" fill="#fff" stroke="#686868" stroke-width="1.65"/>
<ellipse cx="1255.6" cy="472.7" rx="5.9" ry="7.5" fill="#fff" stroke="#686868" stroke-width="1.65"/>
<path d="M1334.2,533.0 V569.5 M1328.7,533.0 H1339.7 M1328.7,569.5 H1339.7" fill="none" stroke="#222" stroke-width="1.5"/>
<path d="M1372.3,228.5 V402 M1366.8,228.5 H1377.8 M1366.8,402 H1377.8" fill="none" stroke="#222" stroke-width="1.5"/>
<ellipse cx="1334.3" cy="546.1" rx="5.9" ry="7.5" fill="#fff" stroke="#f03030" stroke-width="1.65"/>
<ellipse cx="1327.5" cy="562.8" rx="5.9" ry="7.5" fill="#fff" stroke="#f03030" stroke-width="1.65"/>
<ellipse cx="1340.9" cy="562.8" rx="5.9" ry="7.5" fill="#fff" stroke="#f03030" stroke-width="1.65"/>
<ellipse cx="1372.3" cy="238.8" rx="5.9" ry="7.5" fill="#fff" stroke="#686868" stroke-width="1.65"/>
<ellipse cx="1372.4" cy="322.8" rx="5.9" ry="7.5" fill="#fff" stroke="#686868" stroke-width="1.65"/>
<ellipse cx="1372.3" cy="405" rx="5.9" ry="7.5" fill="#fff" stroke="#686868" stroke-width="1.65"/>
<path d="M1451.1,297.8 V342 M1445.6,297.8 H1456.6 M1445.6,342 H1456.6" fill="none" stroke="#222" stroke-width="1.5"/>
<path d="M1489.2,228.6 V268 M1483.7,228.6 H1494.7 M1483.7,268 H1494.7" fill="none" stroke="#222" stroke-width="1.5"/>
<ellipse cx="1444.7" cy="312.2" rx="5.9" ry="7.5" fill="#fff" stroke="#f03030" stroke-width="1.65"/>
<ellipse cx="1457.8" cy="312.2" rx="5.9" ry="7.5" fill="#fff" stroke="#f03030" stroke-width="1.65"/>
<ellipse cx="1451.1" cy="344.5" rx="5.9" ry="7.5" fill="#fff" stroke="#f03030" stroke-width="1.65"/>
<ellipse cx="1489.2" cy="238.3" rx="5.9" ry="7.5" fill="#fff" stroke="#686868" stroke-width="1.65"/>
<ellipse cx="1489.2" cy="254.5" rx="5.9" ry="7.5" fill="#fff" stroke="#686868" stroke-width="1.65"/>
<ellipse cx="1489.2" cy="271" rx="5.9" ry="7.5" fill="#fff" stroke="#686868" stroke-width="1.65"/>
<path d="M866.3,406.8 V300.1 H904.6 V344.8" fill="none" stroke="#111" stroke-width="1.5" stroke-linejoin="round"/>
<text class="sb" transform="translate(885.35,292.18) scale(0.81,1)" x="0" y="0" font-size="24.4" text-anchor="middle">*</text>
<path d="M981.8,292 V185.3 H1020.1 V230.3" fill="none" stroke="#111" stroke-width="1.5" stroke-linejoin="round"/>
<text class="sb" transform="translate(1000.80,177.38) scale(0.81,1)" x="0" y="0" font-size="24.4" text-anchor="middle">*</text>
<path d="M1101,395.6 V250.6 H1138.1 V295.6" fill="none" stroke="#111" stroke-width="1.5" stroke-linejoin="round"/>
<text class="sb" transform="translate(1107.70,240.23) scale(0.81,1)" x="0" y="0" font-size="24.4" text-anchor="middle">*</text>
<text class="sb" transform="translate(1119.70,240.23) scale(0.81,1)" x="0" y="0" font-size="24.4" text-anchor="middle">*</text>
<text class="sb" transform="translate(1131.70,240.23) scale(0.81,1)" x="0" y="0" font-size="24.4" text-anchor="middle">*</text>
<path d="M1217.6,411.1 V266.8 H1255.3 V310.6" fill="none" stroke="#111" stroke-width="1.5" stroke-linejoin="round"/>
<text class="sb" transform="translate(1224.40,256.48) scale(0.81,1)" x="0" y="0" font-size="24.4" text-anchor="middle">*</text>
<text class="sb" transform="translate(1236.40,256.48) scale(0.81,1)" x="0" y="0" font-size="24.4" text-anchor="middle">*</text>
<text class="sb" transform="translate(1248.40,256.48) scale(0.81,1)" x="0" y="0" font-size="24.4" text-anchor="middle">*</text>
<path d="M1333.1,494.7 V169.6 H1371.1 V213.4" fill="none" stroke="#111" stroke-width="1.5" stroke-linejoin="round"/>
<text class="sb" transform="translate(1340.40,156.58) scale(0.81,1)" x="0" y="0" font-size="24.4" text-anchor="middle">*</text>
<text class="sb" transform="translate(1352.40,156.58) scale(0.81,1)" x="0" y="0" font-size="24.4" text-anchor="middle">*</text>
<text class="sb" transform="translate(1364.40,156.58) scale(0.81,1)" x="0" y="0" font-size="24.4" text-anchor="middle">*</text>
<path d="M1453,275.6 V187.3 H1489 V221.5" fill="none" stroke="#111" stroke-width="1.5" stroke-linejoin="round"/>
<text class="sb" transform="translate(1470.50,176.28) scale(0.81,1)" x="0" y="0" font-size="24.4" text-anchor="middle">*</text>
<path d="M826.1,48.7 V734.3 M1528.6,48.7 V734.3" fill="none" stroke="#000" stroke-width="2.8"/>
<path d="M814.9,48.7 H1530.0 M814.9,734.3 H1530.0" fill="none" stroke="#000" stroke-width="3.3"/>
<line x1="814.9" y1="734.3" x2="826.1" y2="734.3" stroke="#000" stroke-width="3.2"/>
<text class="b" transform="translate(807,743.6) scale(0.85,1)" x="0" y="0" font-size="24.5" text-anchor="end">0</text>
<line x1="814.9" y1="597.2" x2="826.1" y2="597.2" stroke="#000" stroke-width="3.2"/>
<text class="b" transform="translate(807,606.5) scale(0.85,1)" x="0" y="0" font-size="24.5" text-anchor="end">5</text>
<line x1="814.9" y1="460.1" x2="826.1" y2="460.1" stroke="#000" stroke-width="3.2"/>
<text class="b" transform="translate(807,469.4) scale(0.85,1)" x="0" y="0" font-size="24.5" text-anchor="end">10</text>
<line x1="814.9" y1="322.9" x2="826.1" y2="322.9" stroke="#000" stroke-width="3.2"/>
<text class="b" transform="translate(807,332.2) scale(0.85,1)" x="0" y="0" font-size="24.5" text-anchor="end">15</text>
<line x1="814.9" y1="185.8" x2="826.1" y2="185.8" stroke="#000" stroke-width="3.2"/>
<text class="b" transform="translate(807,195.1) scale(0.85,1)" x="0" y="0" font-size="24.5" text-anchor="end">20</text>
<line x1="814.9" y1="48.7" x2="826.1" y2="48.7" stroke="#000" stroke-width="3.2"/>
<text class="b" transform="translate(807,58.0) scale(0.85,1)" x="0" y="0" font-size="24.5" text-anchor="end">25</text>
<line x1="820.7" y1="665.7" x2="826.1" y2="665.7" stroke="#000" stroke-width="3"/>
<line x1="820.7" y1="528.6" x2="826.1" y2="528.6" stroke="#000" stroke-width="3"/>
<line x1="820.7" y1="391.5" x2="826.1" y2="391.5" stroke="#000" stroke-width="3"/>
<line x1="820.7" y1="254.4" x2="826.1" y2="254.4" stroke="#000" stroke-width="3"/>
<line x1="820.7" y1="117.3" x2="826.1" y2="117.3" stroke="#000" stroke-width="3"/>
<line x1="884.4" y1="734.3" x2="884.4" y2="747.2" stroke="#000" stroke-width="2.7"/>
<text class="b" transform="translate(884.4,777.3) scale(0.87,1)" x="0" y="0" font-size="24.5" text-anchor="middle">C1</text>
<line x1="1001.4" y1="734.3" x2="1001.4" y2="747.2" stroke="#000" stroke-width="2.7"/>
<text class="b" transform="translate(1001.4,777.3) scale(0.87,1)" x="0" y="0" font-size="24.5" text-anchor="middle">C2</text>
<line x1="1118.4" y1="734.3" x2="1118.4" y2="747.2" stroke="#000" stroke-width="2.7"/>
<text class="b" transform="translate(1118.4,777.3) scale(0.87,1)" x="0" y="0" font-size="24.5" text-anchor="middle">C3</text>
<line x1="1235.6" y1="734.3" x2="1235.6" y2="747.2" stroke="#000" stroke-width="2.7"/>
<text class="b" transform="translate(1235.6,777.3) scale(0.87,1)" x="0" y="0" font-size="24.5" text-anchor="middle">C4</text>
<line x1="1352.6" y1="734.3" x2="1352.6" y2="747.2" stroke="#000" stroke-width="2.7"/>
<text class="b" transform="translate(1352.6,777.3) scale(0.87,1)" x="0" y="0" font-size="24.5" text-anchor="middle">C5</text>
<line x1="1469.5" y1="734.3" x2="1469.5" y2="747.2" stroke="#000" stroke-width="2.7"/>
<text class="b" transform="translate(1469.5,777.3) scale(0.87,1)" x="0" y="0" font-size="24.5" text-anchor="middle">C6</text>
<text class="b" transform="translate(1071.2,828.4) scale(0.835,1)" x="0" y="0" font-size="25.4">Fermentation substrate</text>
<g transform="translate(773.4,508.1) rotate(-90)"><text class="b" transform="scale(1,0.75)" x="0" y="0" font-size="26.6" textLength="144.6" lengthAdjust="spacing">Monacolin K</text><text class="cjk" transform="translate(144.6,-1.5) scale(1.105,0.845)" x="0" y="0" font-size="20">（</text><text class="b" transform="translate(167.6,0) scale(1,0.75)" x="0" y="0" font-size="26.6" textLength="65.3" lengthAdjust="spacing">mg/g)</text></g>
<clipPath id="c7"><rect x="861.50" y="69.30" width="53.40" height="32.20"/></clipPath>
<path d="M860.50,59.01L915.90,-7.47M860.50,71.86L915.90,5.38M860.50,84.71L915.90,18.23M860.50,97.56L915.90,31.08M860.50,110.41L915.90,43.93M860.50,123.26L915.90,56.78M860.50,136.11L915.90,69.63M860.50,148.96L915.90,82.48M860.50,161.81L915.90,95.33M860.50,174.66L915.90,108.18" fill="none" stroke="#f03030" stroke-width="1.5" clip-path="url(#c7)"/>
<rect x="861.5" y="69.3" width="53.4" height="32.2" fill="none" stroke="#f03030" stroke-width="2"/>
<rect x="861.5" y="106" width="53.4" height="31.7" fill="#fff" stroke="#757575" stroke-width="2"/>
<line x1="861.3" y1="113.0" x2="915" y2="113.0" stroke="#757575" stroke-width="1.4"/>
<line x1="861.3" y1="119.45" x2="915" y2="119.45" stroke="#757575" stroke-width="1.4"/>
<line x1="861.3" y1="125.85" x2="915" y2="125.85" stroke="#757575" stroke-width="1.4"/>
<line x1="861.3" y1="132.2" x2="915" y2="132.2" stroke="#757575" stroke-width="1.4"/>
<text class="b" transform="translate(921.5,94.6) scale(0.87,1)" x="0" y="0" font-size="22">22d</text>
<text class="b" transform="translate(921.5,130.9) scale(0.87,1)" x="0" y="0" font-size="22">28d</text>
</g>
</svg></body></html>
